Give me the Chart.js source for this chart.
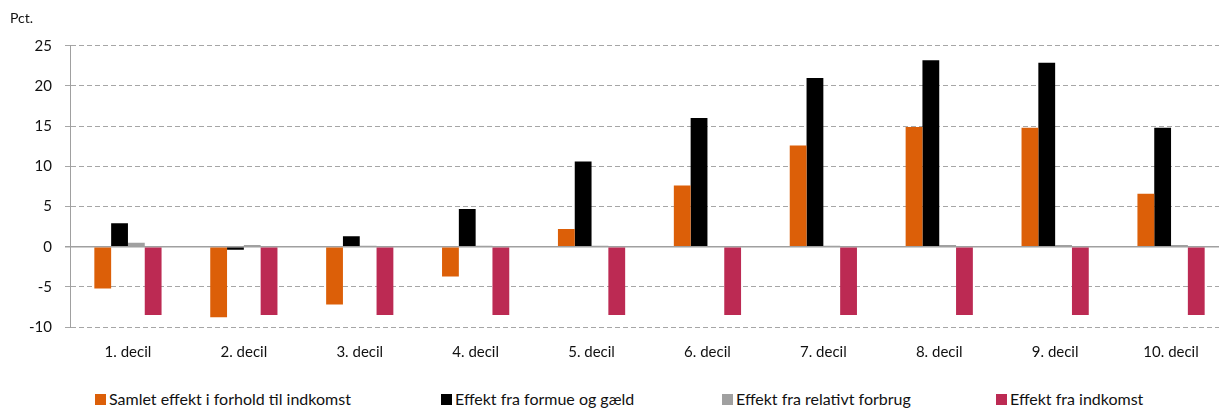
<!DOCTYPE html>
<html>
<head>
<meta charset="utf-8">
<script src="https://cdn.jsdelivr.net/npm/chart.js@4/dist/chart.umd.min.js"></script>
<style>
  html, body { margin: 0; padding: 0; background: #fff; overflow: hidden; }
  #wrap { position: relative; width: 1240px; height: 410px; }
  #legend { position: absolute; top: 390px; left: 0; width: 1240px; height: 20px; font-family: Lato, sans-serif; font-size: 16px; line-height: 18px; color: #111; }
  #legend .item { position: absolute; top: 0; display: flex; align-items: center; white-space: nowrap; }
  #legend .item:nth-child(1) { left: 95px; }
  #legend .item:nth-child(2) { left: 441px; }
  #legend .item:nth-child(3) { left: 722px; }
  #legend .item:nth-child(4) { left: 996px; }
  #legend .box { width: 11px; height: 11px; margin-right: 3px; }
</style>
</head>
<body>
<div id="wrap">
  <canvas id="chart1" width="1240" height="387"></canvas>
  <div id="legend"></div>
</div>
<script>
const categories = ['1. decil', '2. decil', '3. decil', '4. decil', '5. decil', '6. decil', '7. decil', '8. decil', '9. decil', '10. decil'];
const samletEffekt = [-5.2, -8.8, -7.2, -3.7, 2.2, 7.6, 12.6, 14.9, 14.8, 6.6];
const formueGaeld = [2.9, -0.4, 1.3, 4.7, 10.6, 16.0, 21.0, 23.2, 22.9, 14.8];
const relativtForbrug = [0.5, 0.2, 0.1, 0.1, 0.1, 0.05, 0.1, 0.2, 0.2, 0.2];
const indkomst = [-8.5, -8.5, -8.5, -8.5, -8.5, -8.5, -8.5, -8.5, -8.5, -8.5];
const yTicks = [-10, -5, 0, 5, 10, 15, 20, 25];

const seriesNames = ['Samlet effekt i forhold til indkomst', 'Effekt fra formue og gæld', 'Effekt fra relativt forbrug', 'Effekt fra indkomst'];
const seriesColors = ['#DC5F08', '#000000', '#A0A0A0', '#BC2A53'];
const seriesData = [samletEffekt, formueGaeld, relativtForbrug, indkomst];

const font = 'Lato, sans-serif';

const datasets = seriesData.map((d, i) => ({
    label: seriesNames[i],
    data: d,
    backgroundColor: seriesColors[i],
    borderWidth: 0,
    categoryPercentage: 0.58,
    barPercentage: 1.0
}));

const ctx1 = document.getElementById('chart1').getContext('2d');
window.bar1 = new Chart(ctx1, {
    type: 'bar',
    data: { labels: categories, datasets: datasets },
    options: {
        responsive: false,
        animation: false,
        layout: { padding: { left: 10, right: 11, top: 0, bottom: 10 } },
        plugins: {
            legend: { display: false },
            tooltip: { enabled: false },
            title: {
                display: true,
                text: 'Pct.',
                align: 'start',
                color: '#111',
                font: { family: font, size: 14, weight: 'normal' },
                padding: { top: 10, bottom: 19 }
            }
        },
        scales: {
            x: {
                grid: { display: false, drawTicks: false },
                border: { display: false },
                ticks: { color: '#111', font: { family: font, size: 15 }, padding: 16 }
            },
            y: {
                min: -10,
                max: 25,
                afterFit: s => { s.width = 60; },
                afterBuildTicks: s => { s.ticks = yTicks.map(v => ({ value: v })); },
                grid: {
                    color: ctx => ctx.tick && ctx.tick.value === 0 ? '#A0A0A0' : '#A6A6A6',
                    lineWidth: ctx => ctx.tick && ctx.tick.value === 0 ? 1.5 : 1,
                    tickLength: 5
                },
                border: {
                    display: true,
                    color: '#A0A0A0',
                    dash: ctx => ctx.tick && ctx.tick.value !== 0 ? [5, 3] : []
                },
                ticks: { color: '#111', font: { family: font, size: 15 }, padding: 13 }
            }
        }
    }
});

// legend built in html so the wide gaps between items match the original
const legendDiv = document.getElementById('legend');
seriesNames.forEach((name, i) => {
    const item = document.createElement('div');
    item.className = 'item';
    const box = document.createElement('span');
    box.className = 'box';
    box.style.background = seriesColors[i];
    const txt = document.createElement('span');
    txt.textContent = name;
    item.append(box, txt);
    legendDiv.append(item);
});
</script>
</body>
</html>
